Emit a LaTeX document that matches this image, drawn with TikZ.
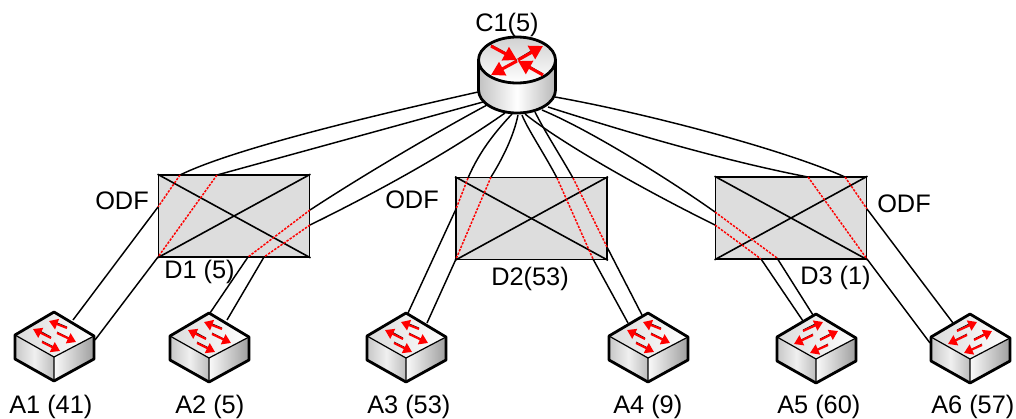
\documentclass[tikz,border=0pt]{standalone}
\usepackage{fontspec}
\setmainfont{Liberation Sans}
\usetikzlibrary{arrows.meta}
\definecolor{boxgrey}{HTML}{DDDDDD}
\tikzset{
  wire/.style={black,line width=1.1pt},
  patch/.style={red,line width=1.1pt,dash pattern=on 1.8pt off 1pt},
  odf/.style={draw=black,fill=boxgrey,line width=1.2pt,rectangle,inner sep=0pt,minimum width=113.5pt,minimum height=61.5pt},
  crossing/.style={black,line width=1.2pt},
  lab/.style={anchor=base west,inner sep=0pt,font=\fontsize{19pt}{21pt}\selectfont},
  hull/.style={draw=black,line width=2.1pt,line join=round},
  edge line/.style={draw=black,line width=.9pt,line join=round},
  swshadow/.style={black,line width=.6pt},
  swarrow/.style={red,line width=1.6pt,-{Triangle[length=6.5pt,width=8pt]}},
  rtshadow/.style={black,line width=.8pt},
  rtarrow/.style={red,line width=2.3pt,-{Triangle[length=10pt,width=11pt]}},
  device/.style={inner sep=0pt,minimum size=1pt}
}
\newcommand{\switchbody}[3]{%
  \begin{scope}[shift={(#2,#3)}]
    \node[device] (#1) at (0,34) {};
    \shade[left color=white!86!black,right color=white] (-39,23) -- (0,0) -- (40,24) -- (0,45) -- cycle;
    \shade[left color=white!78!black,right color=white!74!black,middle color=white!94!black] (-39,23) -- (0,45) -- (0,69) -- (-39,47) -- cycle;
    \shade[left color=white!98!black,right color=white!62!black] (0,45) -- (40,24) -- (40,47) -- (0,69) -- cycle;
    \draw[edge line] (-39,23) -- (0,45) -- (40,24) (0,45) -- (0,69);
    \draw[hull] (0,0) -- (-39,23) -- (-39,47) -- (0,69) -- (40,47) -- (40,24) -- cycle;
  }
\newcommand{\arrowsnw}{%
  \draw[swshadow] (13,15) -- (1,10);
  \draw[swarrow] (13,16) -- (-5,9);
  \draw[swshadow] (-3,25) -- (-14,19);
  \draw[swarrow] (-3,26) -- (-21,17);
  \draw[swshadow] (3,20) -- (15,26);
  \draw[swarrow] (3,21) -- (22,30);
  \draw[swshadow] (-12,29) -- (0,35);
  \draw[swarrow] (-12,30) -- (6,39);
  \end{scope}}
\newcommand{\arrowsne}{%
  \draw[swshadow] (-13,16) -- (1,9);
  \draw[swarrow] (-13,17) -- (7,8);
  \draw[swshadow] (4,25) -- (16,19);
  \draw[swarrow] (4,26) -- (22,17);
  \draw[swshadow] (-3,20) -- (-15,26);
  \draw[swarrow] (-3,21) -- (-22,30);
  \draw[swshadow] (12,30) -- (0,36);
  \draw[swarrow] (12,31) -- (-6,39);
  \end{scope}}
\begin{document}
\begin{tikzpicture}[x=.75pt,y=-.75pt]
\useasboundingbox (0,0) rectangle (1016,418);
% ODF boxes
\node[odf] (D1) at (234,216) {};
\node[odf] (D2) at (531.5,218.5) {};
\node[odf] (D3) at (791,218) {};
\foreach \b in {D1,D2,D3}{
  \draw[crossing] (\b.north west) -- (\b.south east);
  \draw[crossing] (\b.north east) -- (\b.south west);
}
% attachment points
\coordinate (c01) at (478,92);  \coordinate (c02) at (483,102); \coordinate (c03) at (487,105);
\coordinate (c04) at (505,113); \coordinate (c05) at (512,114); \coordinate (c06) at (518,115);
\coordinate (c07) at (522,115); \coordinate (c08) at (535,112); \coordinate (c09) at (525,114);
\coordinate (c10) at (542,110); \coordinate (c11) at (548,107); \coordinate (c12) at (555,97);
\coordinate (i01) at (180,175); \coordinate (o01) at (158,207); \coordinate (a01) at (73,320);
\coordinate (i02) at (217,175); \coordinate (o02) at (158,257); \coordinate (a02) at (95,340);
\coordinate (i03) at (310,210); \coordinate (o03) at (248,257); \coordinate (a03) at (210,313);
\coordinate (i04) at (310,225); \coordinate (o04) at (264,257); \coordinate (a04) at (227,320);
\coordinate (i05) at (468,178); \coordinate (o05) at (456,209); \coordinate (a05) at (408,313);
\coordinate (i06) at (491,177); \coordinate (o06) at (456,259); \coordinate (a06) at (427,323);
\coordinate (i07) at (557,178); \coordinate (o07) at (593,259); \coordinate (a07) at (628,323);
\coordinate (i08) at (573,178); \coordinate (o08) at (607,247); \coordinate (a08) at (642,315);
\coordinate (i09) at (715,225); \coordinate (o09) at (761,259); \coordinate (a09) at (803,321);
\coordinate (i10) at (715,212); \coordinate (o10) at (777,258); \coordinate (a10) at (813,315);
\coordinate (i11) at (808,177); \coordinate (o11) at (867,259); \coordinate (a11) at (930,343);
\coordinate (i12) at (845,177); \coordinate (o12) at (867,209); \coordinate (a12) at (953,323);
% links: router to box
\draw[wire] (c01) .. controls (380,114) and (235,148) .. (i01);
\draw[wire] (c02) -- (i02);
\draw[wire] (c03) .. controls (435,133) and (365,174) .. (i03);
\draw[wire] (c04) .. controls (445,155) and (375,193) .. (i04);
\draw[wire] (c05) .. controls (497,130) and (480,150) .. (i05);
\draw[wire] (c06) .. controls (514,135) and (503,158) .. (i06);
\draw[wire] (c07) .. controls (527,128) and (545,155) .. (i07);
\draw[wire] (c08) .. controls (545,132) and (560,155) .. (i08);
\draw[wire] (c09) .. controls (560,142) and (640,188) .. (i09);
\draw[wire] (c10) .. controls (590,130) and (670,180) .. (i10);
\draw[wire] (c11) .. controls (620,130) and (720,160) .. (i11);
\draw[wire] (c12) .. controls (640,112) and (780,148) .. (i12);
% patches and links: box to switch
\foreach \n in {01,02,03,04,05,06,07,08,09,10,11,12}{
  \draw[patch] (i\n) -- (o\n);
  \draw[wire] (o\n) -- (a\n);
}
% switches
\switchbody{A1}{54}{312}\arrowsnw
\switchbody{A2}{209}{313}\arrowsnw
\switchbody{A3}{406}{313}\arrowsnw
\switchbody{A4}{648}{313}\arrowsnw
\switchbody{A5}{816}{314}\arrowsne
\switchbody{A6}{970}{314}\arrowsne
% router
\node[device] (C1) at (517,75) {};
\shade[left color=white!76!black,right color=white!72!black,middle color=white]
  (478.5,60) -- (478.5,90) arc[start angle=180,end angle=360,x radius=28.875pt,y radius=17.25pt] -- (555.5,60) -- cycle;
\draw[hull] (478.5,60) -- (478.5,90) arc[start angle=180,end angle=360,x radius=28.875pt,y radius=17.25pt] -- (555.5,60);
\shade[shading angle=315,top color=white!82!black,bottom color=white] (517,60) ellipse[x radius=28.875pt,y radius=17.25pt];
\draw[hull] (517,60) ellipse[x radius=28.875pt,y radius=17.25pt];
\draw[rtshadow] (491,45) -- (506,53);
\draw[rtarrow] (491,46) -- (517,60);
\draw[rtshadow] (518,59) -- (533,50);
\draw[rtarrow] (518,60) -- (543,46);
\draw[rtshadow] (517,60) -- (503,68);
\draw[rtarrow] (517,61) -- (491,75);
\draw[rtshadow] (543,74) -- (529,66);
\draw[rtarrow] (543,75) -- (518,61);
% labels
\node[lab] (lc1) at (475,31) {C1(5)};
\node[lab] (ld1) at (164,278) {D1 (5)};
\node[lab] (ld2) at (491,285) {D2(53)};
\node[lab] (ld3) at (800,284) {D3 (1)};
\node[lab] (lo1) at (95,209) {ODF};
\node[lab] (lo2) at (385,208) {ODF};
\node[lab] (lo3) at (877,212) {ODF};
\node[lab] (la1) at (9,413) {A1 (41)};
\node[lab] (la2) at (175,413) {A2 (5)};
\node[lab] (la3) at (367,413) {A3 (53)};
\node[lab] (la4) at (613,413) {A4 (9)};
\node[lab] (la5) at (777,413) {A5 (60)};
\node[lab] (la6) at (931,413) {A6 (57)};
\end{tikzpicture}
\end{document}
